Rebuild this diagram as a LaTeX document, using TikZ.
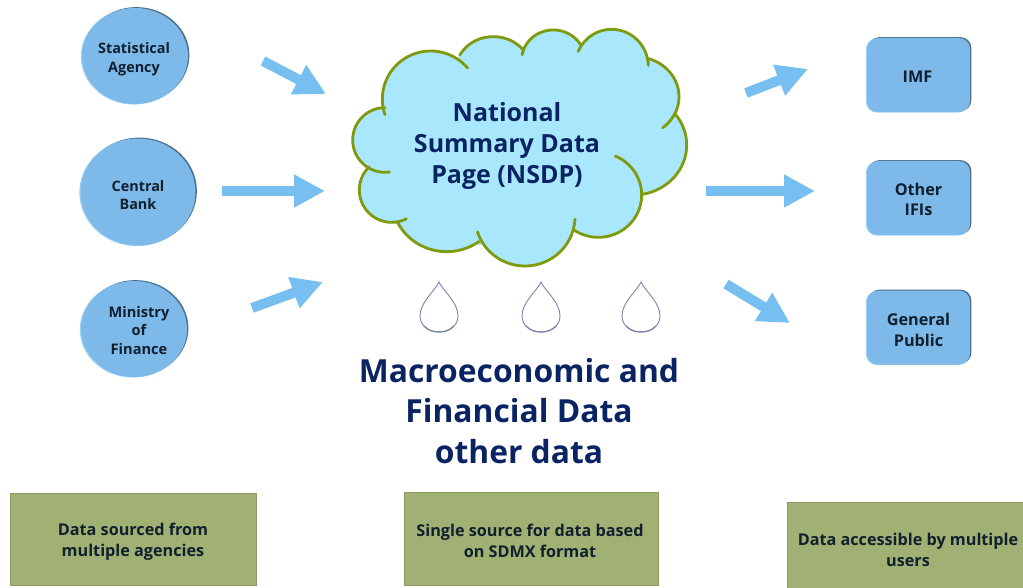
\documentclass[tikz,border=0pt]{standalone}
\usepackage{fontspec}
\setmainfont{Open Sans}
\usetikzlibrary{arrows.meta,shapes.geometric}
\definecolor{orgblue}{HTML}{7DB9E9}
\definecolor{orgdark}{HTML}{4A6F8C}
\definecolor{orglight}{HTML}{9FD2F2}
\definecolor{skyarrow}{HTML}{78BFF1}
\definecolor{cloudfill}{HTML}{A9E7FD}
\definecolor{cloudline}{HTML}{7F9A0C}
\definecolor{navytext}{HTML}{0A2362}
\definecolor{inktext}{HTML}{10202E}
\definecolor{notegreen}{HTML}{A1B073}
\definecolor{noteedge}{HTML}{8C9B63}
\definecolor{notedark}{HTML}{6E7C4A}
\definecolor{dropline}{HTML}{7A84AE}
\tikzset{
  bevel/.style={
    preaction={fill=orgdark,transform canvas={shift={(1.4pt,0.9pt)}}},
    preaction={fill=orglight,transform canvas={shift={(-1.2pt,-0.6pt)}}},
    fill=orgblue,inner sep=0pt},
  agency/.style={bevel,ellipse,minimum width=#1,minimum height=96pt},
  agency/.default=106pt,
  userbox/.style={bevel,rounded corners=11pt,minimum width=103pt,minimum height=74pt},
  notebox/.style={
    preaction={fill=notedark,transform canvas={shift={(1.2pt,-1.2pt)}}},
    fill=notegreen,draw=noteedge,line width=0.6pt,inner sep=0pt},
  smalltext/.style={text=inktext,align=center,inner sep=0pt,
    font=\fontsize{14.4}{18.7}\selectfont\bfseries},
  largetext/.style={text=inktext,align=center,inner sep=0pt,
    font=\fontsize{16.2}{20.7}\selectfont\bfseries},
  flowarrow/.style={draw=skyarrow,line width=10pt,
    -{Triangle[length=31pt,width=31pt,fill=skyarrow]}},
  titletext/.style={text=navytext,align=center,inner sep=0pt},
  dropline/.style={draw=dropline,line width=0.9pt},
  waterdrop/.pic={
    \path[dropline,fill=white] (0,0) .. controls (-4,9) and (-19,20) .. (-19,34)
      .. controls (-19,44) and (-10,50) .. (0,50)
      .. controls (10,50) and (19,44) .. (19,34)
      .. controls (19,20) and (4,9) .. (0,0) -- cycle;
    \draw[dropline,line width=1.2pt] (-15,44) .. controls (-10,49) and (-5,50) .. (0,50)
      .. controls (5,50) and (10,49) .. (15,44);
  }
}
\newcommand{\cloudlobe}[7]{%
  \path[#7] plot[domain=#5:#6,samples=48,smooth] ({#1+#3*cos(\x)},{#2+#4*sin(\x)});}
\newcommand{\cloudlobes}[1]{%
  \cloudlobe{272}{237}{145}{144}{161}{320}{#1}
  \cloudlobe{460}{150}{112}{100}{206}{322}{#1}
  \cloudlobe{640}{120}{95}{90}{190}{328}{#1}
  \cloudlobe{815}{140}{110}{112}{204}{358}{#1}
  \cloudlobe{885}{230}{132}{120}{288}{411}{#1}
  \cloudlobe{880}{375}{160}{150}{-38}{81}{#1}
  \cloudlobe{775}{525}{130}{127}{-67}{125}{#1}
  \cloudlobe{555}{590}{150}{148}{3}{162}{#1}
  \cloudlobe{320}{535}{165}{160}{54}{154}{#1}
  \cloudlobe{155}{510}{97}{97}{63}{226}{#1}
  \cloudlobe{135}{360}{97}{97}{82}{270}{#1}
}
\begin{document}
\begin{tikzpicture}[x=1pt,y=-1pt]
\useasboundingbox (0,0) rectangle (1023,588);
% cloud
\begin{scope}[shift={(340,20)},x=0.33333pt,y=-0.33333pt]
  \path[fill=cloudfill,draw=cloudfill,line width=2pt] (133,265)--(370,108)--(553,90)--(722,72)--(925,122)--(1003,285)--(905,522)--(702,632)--(418,672)--(175,606)--(92,445)--cycle;
  \cloudlobes{fill=cloudfill,draw=cloudfill,line width=2pt}
  \cloudlobes{draw=cloudline,line width=2.8pt,line cap=round}
\end{scope}
\node[titletext,font=\fontsize{25}{31}\selectfont\bfseries] (nsdp) at (507,146) {National\\Summary Data\\Page (NSDP)};
% sources
\node[agency,label={[smalltext,xshift=-1pt,yshift=-3pt]center:{Statistical\\Agency}}] (stat) at (135,56) {};
\node[agency=115pt,minimum height=107pt,label={[smalltext,yshift=-3pt]center:{Central\\Bank}}] (bank) at (138,192) {};
\node[agency,label={[smalltext,xshift=5pt,yshift=-1.5pt,font=\fontsize{14.6}{18.5}\selectfont\bfseries]center:{Ministry\\of\\Finance}}] (mof) at (134,329) {};
% users
\node[userbox,label={[largetext,xshift=-1pt,yshift=-1.5pt]center:{IMF}}] (imf) at (918.5,75) {};
\node[userbox,label={[largetext,yshift=-1.5pt]center:{Other\\IFIs}}] (ifi) at (918.5,198) {};
\node[userbox,label={[largetext,yshift=-2.5pt]center:{General\\Public}}] (pub) at (918.5,327.5) {};
% arrows
\coordinate (a1s) at (263,61);  \coordinate (a1e) at (326,94);
\coordinate (a2s) at (222,191); \coordinate (a2e) at (325,191);
\coordinate (a3s) at (252,308); \coordinate (a3e) at (323,282);
\coordinate (b1s) at (746,93);  \coordinate (b1e) at (808,69);
\coordinate (b2s) at (706,191); \coordinate (b2e) at (815,191);
\coordinate (b3s) at (726,284); \coordinate (b3e) at (790,323);
\foreach \s/\e in {a1s/a1e,a2s/a2e,a3s/a3e,b1s/b1e,b2s/b2e,b3s/b3e}
  \draw[flowarrow] (\s) -- (\e);
% drops
\pic at (439,282) {waterdrop};
\pic at (541,282) {waterdrop};
\pic at (641,282) {waterdrop};
% caption
\node[titletext,font=\fontsize{31.8}{40.5}\selectfont\bfseries] (macro) at (519,411) {Macroeconomic and\\Financial Data\\other data};
% notes
\node[notebox,minimum width=246pt,minimum height=92pt,label={[largetext,yshift=-3pt]center:{Data sourced from\\multiple agencies}}] (n1) at (133,539) {};
\node[notebox,minimum width=254pt,minimum height=93pt,label={[largetext,xshift=-1pt,yshift=-2.5pt]center:{Single source for data based\\on SDMX format}}] (n2) at (531,538.5) {};
\node[notebox,minimum width=238pt,minimum height=86pt,label={[largetext,xshift=2pt,yshift=-5pt]center:{Data accessible by multiple\\users}}] (n3) at (906,545) {};
\end{tikzpicture}
\end{document}
